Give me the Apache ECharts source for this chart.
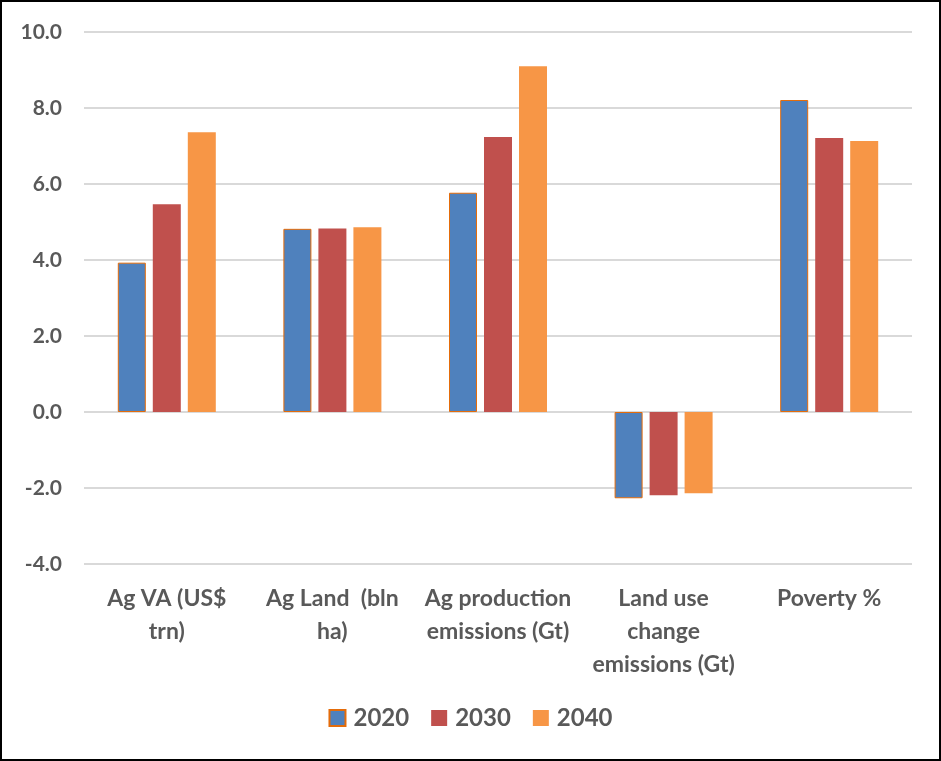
<!DOCTYPE html>
<html><head><meta charset="utf-8">
<script src="https://cdn.jsdelivr.net/npm/echarts@6/dist/echarts.min.js"></script>
<style>
html,body{margin:0;padding:0;background:#fff;}
#wrap{position:absolute;left:0;top:0;width:941px;height:761px;box-sizing:border-box;border:2px solid #000;}
#c{position:absolute;left:0;top:0;width:941px;height:761px;}
</style></head>
<body>
<div id="c"></div>
<div id="wrap"></div>
<script>
const categories = ["Ag VA (US$\ntrn)", "Ag Land  (bln\nha)", "Ag production\nemissions (Gt)", "Land use\nchange\nemissions (Gt)", "Poverty %"];
const seriesNames = ["2020", "2030", "2040"];
const values2020 = [3.93, 4.82, 5.77, -2.27, 8.21];
const values2030 = [5.47, 4.83, 7.24, -2.19, 7.21];
const values2040 = [7.36, 4.86, 9.10, -2.14, 7.13];
const colors = ["#4F81BD", "#C0504D", "#F79646"];
const font = "Lato";
const txt = "#595959";
const chart = echarts.init(document.getElementById('c'), null, {renderer:'canvas'});
chart.setOption({
  animation:false,
  backgroundColor:'#fff',
  grid:{left:84,right:29,top:32,bottom:197},
  legend:{
    bottom:26, left:'center', itemWidth:16, itemHeight:16, itemGap:22,
    textStyle:{fontFamily:font,fontWeight:'bold',fontSize:24,color:txt,padding:[0,0,0,3]},
    data:seriesNames.map((n,i)=>({name:n,icon:'rect'}))
  },
  xAxis:{
    type:'category', data:categories, position:'bottom',
    axisLine:{show:false}, axisTick:{show:false},
    axisLabel:{margin:18,interval:0,fontFamily:font,fontWeight:'bold',fontSize:23,color:txt,lineHeight:33,verticalAlign:'top'}
  },
  yAxis:{
    type:'value', min:-4, max:10, interval:2,
    axisLine:{show:false}, axisTick:{show:false},
    splitLine:{lineStyle:{color:'#D9D9D9',width:2}},
    axisLabel:{margin:22,fontFamily:font,fontWeight:'bold',fontSize:21,color:txt,formatter:v=>v.toFixed(1)}
  },
  series:[
    {name:seriesNames[0],type:'bar',data:values2020,barWidth:28,barGap:'25%',itemStyle:{color:colors[0],borderColor:'#E46C0A',borderWidth:1}},
    {name:seriesNames[1],type:'bar',data:values2030,barWidth:28,barGap:'25%',itemStyle:{color:colors[1]}},
    {name:seriesNames[2],type:'bar',data:values2040,barWidth:28,barGap:'25%',itemStyle:{color:colors[2]}}
  ]
});
</script>
</body></html>
